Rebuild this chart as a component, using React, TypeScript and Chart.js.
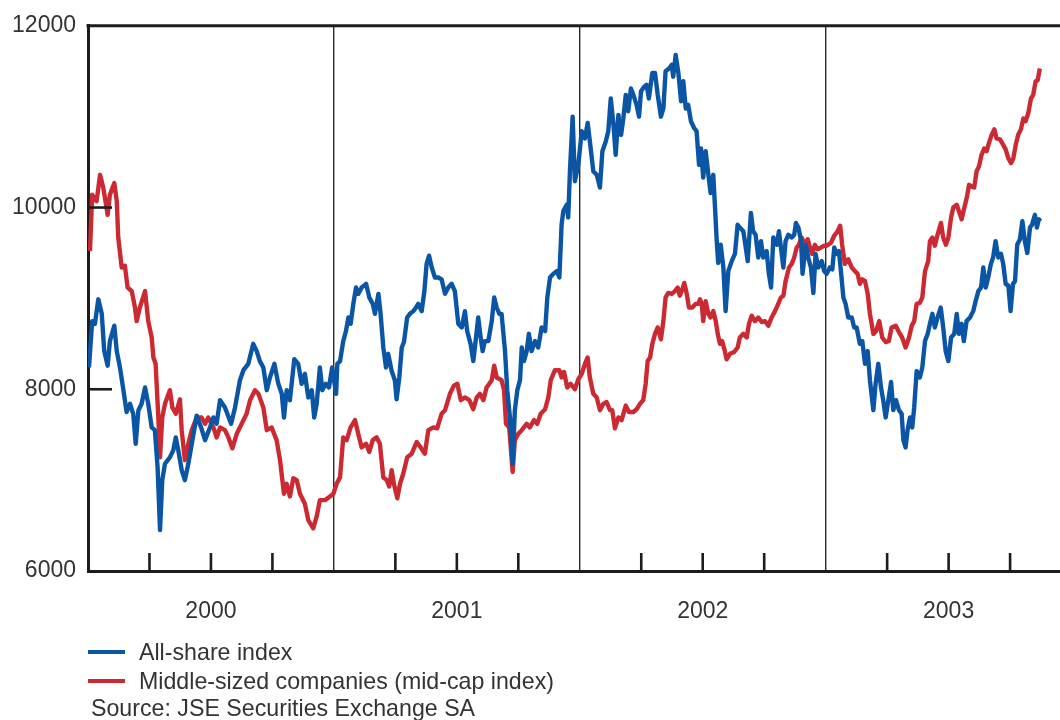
import React, { useEffect, useRef } from "react";
import { Chart, registerables } from "chart.js";

Chart.register(...registerables);

// ---- Data (time as years elapsed since start of 2000) ----
const START_YEAR = 2000;
const X_MAX_OFFSET = 3.953;
const YEAR_LABELS = ["2000", "2001", "2002", "2003"];
const Y_TICKS = [6000, 8000, 10000, 12000];
const SERIES_NAMES = ["All-share index", "Middle-sized companies (mid-cap index)"];
const SOURCE_TEXT = "Source: JSE Securities Exchange SA";

const allShareT = [
  0.004, 0.017, 0.028, 0.042, 0.056, 0.066, 0.080, 0.089, 0.107, 0.117, 0.130, 0.144, 0.157, 0.171, 0.184, 0.194,
  0.205, 0.218, 0.232, 0.245, 0.259, 0.272, 0.283, 0.293, 0.302, 0.313, 0.333, 0.347, 0.357, 0.367, 0.381, 0.394,
  0.408, 0.422, 0.442, 0.460, 0.476, 0.496, 0.510, 0.523, 0.537, 0.557, 0.582, 0.598, 0.618, 0.632, 0.652, 0.672,
  0.686, 0.699, 0.713, 0.727, 0.740, 0.758, 0.774, 0.788, 0.797, 0.808, 0.821, 0.839, 0.855, 0.869, 0.882, 0.896,
  0.910, 0.920, 0.930, 0.943, 0.953, 0.967, 0.980, 0.993, 1.009, 1.014, 1.025, 1.038, 1.049, 1.059, 1.068, 1.079,
  1.090, 1.099, 1.113, 1.131, 1.144, 1.158, 1.167, 1.181, 1.190, 1.201, 1.212, 1.221, 1.235, 1.248, 1.255, 1.266,
  1.276, 1.285, 1.298, 1.309, 1.323, 1.334, 1.343, 1.357, 1.368, 1.377, 1.387, 1.398, 1.411, 1.425, 1.438, 1.452,
  1.465, 1.479, 1.492, 1.506, 1.520, 1.533, 1.542, 1.556, 1.567, 1.578, 1.587, 1.597, 1.605, 1.614, 1.628, 1.642,
  1.652, 1.662, 1.673, 1.682, 1.696, 1.705, 1.716, 1.727, 1.736, 1.746, 1.757, 1.764, 1.773, 1.784, 1.793, 1.804,
  1.818, 1.831, 1.845, 1.859, 1.868, 1.879, 1.892, 1.906, 1.917, 1.926, 1.933, 1.947, 1.953, 1.960, 1.971, 1.980,
  1.994, 2.008, 2.021, 2.032, 2.041, 2.055, 2.069, 2.082, 2.092, 2.106, 2.116, 2.126, 2.137, 2.146, 2.157, 2.168,
  2.177, 2.187, 2.197, 2.208, 2.218, 2.231, 2.241, 2.249, 2.262, 2.272, 2.281, 2.295, 2.306, 2.317, 2.330, 2.340,
  2.349, 2.363, 2.374, 2.380, 2.390, 2.401, 2.412, 2.421, 2.431, 2.441, 2.452, 2.466, 2.475, 2.485, 2.493, 2.502,
  2.512, 2.523, 2.532, 2.543, 2.550, 2.557, 2.563, 2.573, 2.584, 2.593, 2.604, 2.618, 2.631, 2.642, 2.651, 2.665,
  2.675, 2.683, 2.696, 2.705, 2.715, 2.726, 2.737, 2.746, 2.760, 2.769, 2.778, 2.787, 2.801, 2.810, 2.818, 2.828,
  2.837, 2.848, 2.862, 2.872, 2.879, 2.889, 2.900, 2.906, 2.919, 2.929, 2.940, 2.950, 2.959, 2.970, 2.984, 2.994,
  3.004, 3.017, 3.027, 3.035, 3.045, 3.054, 3.062, 3.072, 3.081, 3.092, 3.106, 3.116, 3.126, 3.139, 3.149, 3.160,
  3.171, 3.180, 3.194, 3.203, 3.214, 3.225, 3.234, 3.244, 3.255, 3.266, 3.275, 3.286, 3.298, 3.309, 3.316, 3.325,
  3.333, 3.343, 3.352, 3.360, 3.370, 3.383, 3.393, 3.404, 3.415, 3.424, 3.434, 3.444, 3.455, 3.468, 3.478, 3.488,
  3.499, 3.510, 3.523, 3.533, 3.542, 3.553, 3.562, 3.573, 3.587, 3.600, 3.610, 3.621, 3.632, 3.641, 3.651, 3.661,
  3.672, 3.681, 3.691, 3.702, 3.713, 3.722, 3.732, 3.743, 3.752, 3.762, 3.770, 3.779, 3.790, 3.800, 3.810, 3.820,
  3.831, 3.839, 3.851, 3.859, 3.867, 3.874,
];
const allShareV = [
  8240, 8750, 8720, 8990, 8830, 8420, 8260, 8530, 8700, 8420, 8240, 7990, 7750, 7840, 7730, 7400,
  7770, 7840, 8020, 7840, 7580, 7550, 7140, 6450, 7000, 7180, 7250, 7330, 7470, 7330, 7110, 7000,
  7180, 7400, 7710, 7580, 7440, 7580, 7690, 7620, 7880, 7800, 7620, 7800, 8100, 8210, 8280, 8500,
  8420, 8310, 8240, 7990, 8130, 8280, 8060, 7950, 7690, 7990, 7880, 8330, 8280, 8060, 8170, 7910,
  7990, 7690, 7840, 8240, 7990, 8060, 8020, 8240, 7950, 8280, 8310, 8530, 8640, 8790, 8720, 8940,
  9120, 9050, 9120, 9160, 9010, 8940, 8830, 9050, 8830, 8460, 8240, 8390, 8200, 8100, 7890, 8130,
  8460, 8520, 8790, 8830, 8860, 8900, 8940, 8860, 9080, 9380, 9470, 9340, 9230, 9230, 9210, 9050,
  9120, 9160, 9080, 8720, 8680, 8860, 8640, 8500, 8310, 8570, 8790, 8570, 8420, 8530, 8530, 8750,
  9010, 8900, 8830, 8830, 8420, 7990, 7690, 7180, 7770, 7990, 8100, 8460, 8310, 8420, 8610, 8420,
  8530, 8460, 8680, 8640, 9010, 9230, 9270, 9300, 9230, 9810, 9960, 10030, 9890, 10400, 11000, 10290,
  10470, 10840, 10760, 10930, 10730, 10400, 10360, 10220, 10620, 10730, 10840, 11200, 10910, 10580, 11020, 10800,
  10980, 11240, 11060, 11310, 11240, 11130, 11000, 11280, 11330, 11350, 11200, 11480, 11480, 11240, 11000, 11090,
  11500, 11530, 11570, 11440, 11680, 11480, 11170, 11390, 11090, 11130, 10950, 10870, 10840, 10470, 10650, 10330,
  10620, 10360, 10160, 10360, 10000, 9630, 9390, 9590, 9340, 8860, 9300, 9410, 9490, 9810, 9780, 9740,
  9560, 9410, 9940, 9740, 9700, 9450, 9630, 9450, 9520, 9270, 9120, 9670, 9590, 9740, 9560, 9340,
  9630, 9700, 9670, 9700, 9830, 9780, 9630, 9270, 9590, 9450, 9340, 9060, 9490, 9340, 9410, 9300,
  9270, 9340, 9320, 9560, 9490, 9520, 9300, 9010, 8940, 8790, 8790, 8680, 8680, 8500, 8530, 8280,
  8420, 8100, 7770, 8060, 8280, 8020, 7880, 7690, 7880, 8080, 7770, 7880, 7770, 7730, 7440, 7360,
  7550, 7690, 7580, 7800, 8200, 8130, 8240, 8530, 8610, 8720, 8830, 8680, 8790, 8900, 8680, 8420,
  8310, 8570, 8610, 8830, 8610, 8720, 8530, 8750, 8790, 8860, 8970, 9080, 9120, 9340, 9120, 9230,
  9380, 9450, 9630, 9450, 9490, 9380, 9160, 9140, 8860, 9160, 9190, 9590, 9650, 9850, 9630, 9500,
  9780, 9810, 9920, 9780, 9870, 9850,
];

const midCapT = [
  0.008, 0.017, 0.035, 0.049, 0.062, 0.080, 0.089, 0.107, 0.117, 0.123, 0.137, 0.150, 0.161, 0.178, 0.191, 0.198,
  0.211, 0.232, 0.245, 0.259, 0.266, 0.275, 0.286, 0.293, 0.302, 0.313, 0.333, 0.343, 0.357, 0.374, 0.381, 0.394,
  0.408, 0.422, 0.442, 0.462, 0.476, 0.489, 0.510, 0.523, 0.537, 0.557, 0.571, 0.587, 0.605, 0.625, 0.645, 0.659,
  0.679, 0.693, 0.713, 0.727, 0.747, 0.767, 0.781, 0.797, 0.808, 0.821, 0.835, 0.849, 0.862, 0.882, 0.896, 0.916,
  0.930, 0.943, 0.964, 0.984, 0.998, 1.011, 1.025, 1.038, 1.052, 1.068, 1.086, 1.099, 1.113, 1.131, 1.144, 1.158,
  1.174, 1.187, 1.201, 1.215, 1.225, 1.235, 1.244, 1.258, 1.269, 1.282, 1.298, 1.316, 1.337, 1.353, 1.370, 1.384,
  1.404, 1.420, 1.438, 1.452, 1.472, 1.488, 1.502, 1.516, 1.533, 1.551, 1.567, 1.581, 1.594, 1.608, 1.621, 1.642,
  1.652, 1.662, 1.682, 1.692, 1.700, 1.713, 1.727, 1.736, 1.750, 1.764, 1.784, 1.797, 1.814, 1.827, 1.841, 1.859,
  1.872, 1.882, 1.899, 1.917, 1.926, 1.936, 1.949, 1.963, 1.980, 1.994, 2.008, 2.021, 2.032, 2.041, 2.055, 2.069,
  2.082, 2.096, 2.109, 2.123, 2.132, 2.143, 2.157, 2.170, 2.187, 2.200, 2.218, 2.231, 2.245, 2.258, 2.268, 2.276,
  2.286, 2.295, 2.306, 2.317, 2.330, 2.340, 2.349, 2.360, 2.374, 2.387, 2.398, 2.407, 2.417, 2.425, 2.435, 2.444,
  2.458, 2.471, 2.482, 2.489, 2.496, 2.502, 2.512, 2.523, 2.532, 2.543, 2.553, 2.561, 2.570, 2.579, 2.590, 2.597,
  2.611, 2.628, 2.642, 2.651, 2.665, 2.679, 2.688, 2.699, 2.712, 2.726, 2.740, 2.753, 2.767, 2.780, 2.794, 2.807,
  2.818, 2.828, 2.837, 2.851, 2.862, 2.872, 2.882, 2.891, 2.902, 2.916, 2.927, 2.936, 2.945, 2.956, 2.967, 2.981,
  2.994, 3.004, 3.021, 3.035, 3.049, 3.059, 3.067, 3.078, 3.092, 3.106, 3.119, 3.130, 3.139, 3.149, 3.160, 3.171,
  3.180, 3.194, 3.205, 3.218, 3.230, 3.244, 3.257, 3.268, 3.285, 3.298, 3.311, 3.325, 3.339, 3.350, 3.360, 3.370,
  3.383, 3.393, 3.404, 3.417, 3.424, 3.434, 3.444, 3.455, 3.469, 3.478, 3.489, 3.499, 3.510, 3.519, 3.533, 3.542,
  3.553, 3.564, 3.574, 3.583, 3.594, 3.604, 3.614, 3.623, 3.634, 3.645, 3.655, 3.664, 3.675, 3.686, 3.695, 3.709,
  3.722, 3.732, 3.743, 3.754, 3.763, 3.773, 3.783, 3.794, 3.804, 3.813, 3.824, 3.835, 3.844, 3.854, 3.862, 3.871,
];
const midCapV = [
  9520, 10140, 10070, 10360, 10220, 9920, 10140, 10270, 10070, 9670, 9340, 9360, 9120, 9080, 8900, 8750,
  8900, 9080, 8750, 8570, 8350, 8280, 7690, 7250, 7690, 7840, 7990, 7800, 7730, 7890, 7550, 7220,
  7400, 7550, 7690, 7690, 7620, 7690, 7580, 7470, 7580, 7550, 7470, 7350, 7510, 7620, 7730, 7880,
  7990, 7950, 7800, 7550, 7580, 7440, 7220, 6850, 6960, 6820, 7020, 7000, 6850, 6740, 6560, 6470,
  6600, 6780, 6780, 6820, 6850, 6960, 7030, 7470, 7440, 7580, 7660, 7510, 7360, 7400, 7310, 7440,
  7470, 7400, 7030, 7000, 6930, 7110, 6960, 6800, 6960, 7070, 7250, 7290, 7420, 7360, 7290, 7550,
  7580, 7570, 7730, 7770, 7950, 8040, 8060, 7880, 7910, 7880, 7780, 7910, 7950, 7880, 8020, 8100,
  8260, 8130, 8100, 7990, 7620, 7580, 7090, 7440, 7510, 7550, 7620, 7580, 7660, 7620, 7730, 7780,
  7910, 8100, 8210, 8210, 8130, 8190, 8020, 8060, 8000, 8110, 8170, 8280, 8350, 8130, 7950, 7910,
  7770, 7840, 7860, 7770, 7770, 7570, 7690, 7660, 7820, 7750, 7750, 7780, 7840, 7880, 8060, 8310,
  8350, 8500, 8610, 8680, 8550, 8750, 9010, 9060, 9050, 9080, 9120, 9030, 9100, 9170, 9050, 8900,
  8900, 8940, 8940, 8990, 8940, 8750, 8970, 8830, 8790, 8860, 8750, 8610, 8500, 8530, 8420, 8330,
  8390, 8410, 8460, 8570, 8610, 8570, 8720, 8810, 8750, 8790, 8740, 8750, 8700, 8790, 8860, 8940,
  9010, 9030, 9190, 9340, 9380, 9450, 9560, 9590, 9670, 9590, 9650, 9560, 9490, 9590, 9540, 9560,
  9580, 9580, 9610, 9690, 9740, 9800, 9590, 9380, 9430, 9340, 9300, 9270, 9160, 9210, 9190, 9050,
  8830, 8610, 8640, 8750, 8570, 8520, 8530, 8680, 8700, 8630, 8570, 8460, 8570, 8700, 8750, 8940,
  8950, 9010, 9300, 9410, 9630, 9670, 9580, 9700, 9830, 9670, 9590, 9670, 9890, 10000, 10030, 9960,
  9870, 10000, 10110, 10250, 10230, 10220, 10400, 10450, 10580, 10650, 10620, 10710, 10800, 10860, 10760, 10750,
  10690, 10640, 10540, 10490, 10540, 10690, 10800, 10860, 10980, 10950, 11040, 11200, 11240, 11390, 11400, 11530,
];

const BLUE = "#0b56a4";
const RED = "#cc2a33";
const INK = "#1c1c1c";
const TEXT = "#333333";
const FONT = "'Liberation Sans', Arial, sans-serif";

const toPoints = (ts: number[], vs: number[]) =>
  ts.map((t, i) => ({ x: START_YEAR + t, y: vs[i] }));

const framePlugin = {
  id: "frameAndInnerTicks",
  afterDatasetsDraw(chart: any) {
    const { ctx, chartArea, scales } = chart;
    const xs = scales.x;
    const ys = scales.y;
    ctx.save();
    ctx.strokeStyle = INK;
    ctx.lineCap = "butt";
    // inner quarter ticks on x axis
    ctx.lineWidth = 2.6;
    for (let y = 0; y < YEAR_LABELS.length; y++) {
      for (const q of [0.25, 0.5, 0.75]) {
        const v = START_YEAR + y + q;
        if (v > xs.max) continue;
        const px = xs.getPixelForValue(v);
        ctx.beginPath();
        ctx.moveTo(px, chartArea.bottom);
        ctx.lineTo(px, chartArea.bottom - 18);
        ctx.stroke();
      }
    }
    // inner y ticks
    for (const v of Y_TICKS) {
      if (v === ys.min || v === ys.max) continue;
      const py = ys.getPixelForValue(v);
      ctx.beginPath();
      ctx.moveTo(chartArea.left, py);
      ctx.lineTo(chartArea.left + 24, py);
      ctx.stroke();
    }
    // top frame line
    ctx.lineWidth = 3;
    ctx.beginPath();
    ctx.moveTo(chartArea.left - 1.5, chartArea.top);
    ctx.lineTo(chartArea.right, chartArea.top);
    ctx.stroke();
    ctx.restore();
  },
};

export default function App() {
  const canvasRef = useRef<HTMLCanvasElement | null>(null);

  useEffect(() => {
    if (!canvasRef.current) return;
    const chart = new Chart(canvasRef.current, {
      type: "line",
      data: {
        datasets: [
          {
            label: SERIES_NAMES[0],
            data: toPoints(allShareT, allShareV),
            borderColor: BLUE,
            borderWidth: 4.4,
            pointRadius: 0,
            tension: 0,
            borderJoinStyle: "round",
          },
          {
            label: SERIES_NAMES[1],
            data: toPoints(midCapT, midCapV),
            borderColor: RED,
            borderWidth: 4.4,
            pointRadius: 0,
            tension: 0,
            borderJoinStyle: "round",
          },
        ],
      },
      options: {
        animation: false,
        responsive: false,
        maintainAspectRatio: false,
        parsing: false as any,
        layout: { padding: { top: 24, left: 0, right: 0, bottom: 89 } },
        plugins: {
          legend: { display: false },
          tooltip: { enabled: false },
        },
        scales: {
          x: {
            type: "linear",
            min: START_YEAR,
            max: START_YEAR + X_MAX_OFFSET,
            afterBuildTicks: (scale: any) => {
              const ticks: any[] = [];
              for (let i = 0; i < YEAR_LABELS.length * 4; i++) {
                const v = START_YEAR + i * 0.25;
                if (v <= scale.max) ticks.push({ value: v });
              }
              scale.ticks = ticks;
            },
            afterFit: (scale: any) => {
              scale.height = 60;
            },
            ticks: {
              autoSkip: false,
              maxRotation: 0,
              padding: 27,
              color: TEXT,
              font: { family: FONT, size: 23 },
              callback: (value: any) => {
                const v = Number(value) - START_YEAR;
                const frac = v - Math.floor(v);
                if (Math.abs(frac - 0.5) < 1e-6) return YEAR_LABELS[Math.floor(v)] ?? "";
                return "";
              },
            },
            grid: {
              drawTicks: false,
              drawOnChartArea: true,
              color: (ctx: any) => {
                const v = ctx.tick ? ctx.tick.value - START_YEAR : 0.5;
                return Math.abs(v - Math.round(v)) < 1e-6 && v > 0 ? "#2a2a2a" : "rgba(0,0,0,0)";
              },
              lineWidth: 1.4,
            },
            border: { display: true, color: INK, width: 3 },
          },
          y: {
            type: "linear",
            min: 6000,
            max: 12000,
            afterBuildTicks: (scale: any) => {
              scale.ticks = Y_TICKS.map((v) => ({ value: v }));
            },
            afterFit: (scale: any) => {
              scale.width = 88;
            },
            ticks: {
              padding: 12,
              color: TEXT,
              font: { family: FONT, size: 23 },
              callback: (value: any) => String(value),
            },
            grid: { display: false, drawTicks: false },
            border: { display: true, color: INK, width: 3 },
          },
        },
      },
      plugins: [framePlugin],
    });
    return () => chart.destroy();
  }, []);

  const legendText: React.CSSProperties = {
    position: "absolute",
    left: 139,
    fontFamily: FONT,
    fontSize: 23.2,
    lineHeight: "26px",
    color: TEXT,
    whiteSpace: "nowrap",
  };
  const swatch = (color: string, top: number): React.CSSProperties => ({
    position: "absolute",
    left: 88,
    top,
    width: 37,
    height: 4,
    background: color,
  });

  return (
    <div
      style={{
        position: "fixed",
        left: 0,
        top: 0,
        width: 1060,
        height: 720,
        background: "#ffffff",
        overflow: "hidden",
      }}
    >
      <canvas ref={canvasRef} width={1060} height={720} style={{ display: "block", width: 1060, height: 720 }} />
      <div style={swatch(BLUE, 650)} />
      <div style={{ ...legendText, top: 639 }}>{SERIES_NAMES[0]}</div>
      <div style={swatch(RED, 679)} />
      <div style={{ ...legendText, top: 668 }}>{SERIES_NAMES[1]}</div>
      <div style={{ ...legendText, left: 91, top: 695 }}>{SOURCE_TEXT}</div>
    </div>
  );
}
